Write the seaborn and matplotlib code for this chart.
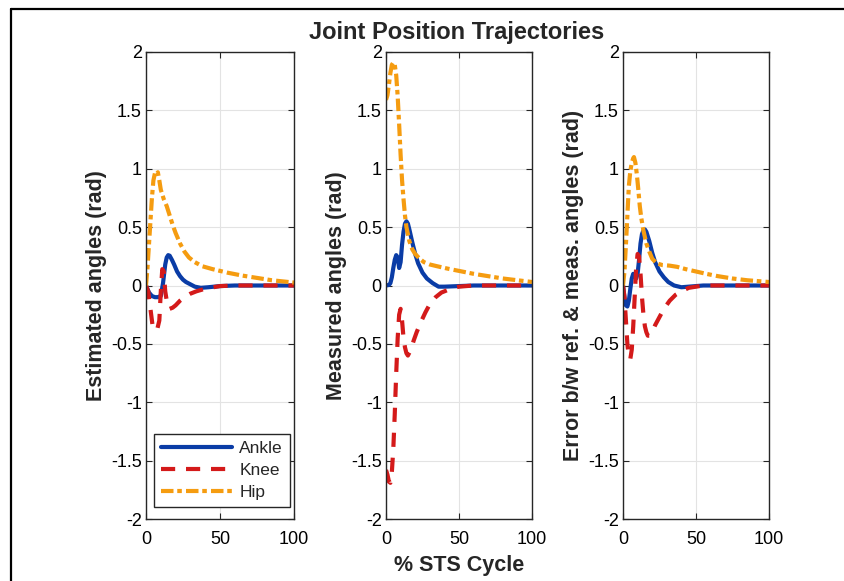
import numpy as np
import pandas as pd
import matplotlib
matplotlib.use("Agg")
import matplotlib.pyplot as plt
from matplotlib.lines import Line2D
from matplotlib.ticker import FormatStrFormatter
import seaborn as sns

# ---------------- data ----------------
# Panel 1: Estimated angles
ankle_est_x = [0, 2, 4, 6, 8, 10, 11.5, 13, 14, 15, 16, 17.5, 19, 21, 23, 25, 27, 30, 33, 37, 42, 50, 60, 100]
ankle_est_y = [0, -0.06, -0.09, -0.1, -0.1, -0.09, 0.02, 0.18, 0.24, 0.26, 0.255, 0.22, 0.18, 0.12, 0.08, 0.05, 0.03, 0.01, -0.01, -0.02, -0.015, -0.005, 0, 0]
knee_est_x = [0, 1.5, 3, 4.5, 6, 7.5, 9, 10, 11, 12, 13, 14.5, 16, 18, 20, 23, 26, 30, 34, 38, 43, 50, 60, 100]
knee_est_y = [0, -0.05, -0.2, -0.35, -0.38, -0.38, -0.3, -0.05, 0.14, 0.12, -0.05, -0.17, -0.2, -0.19, -0.17, -0.13, -0.1, -0.07, -0.05, -0.035, -0.02, -0.005, 0, 0]
hip_est_x = [0, 1, 2, 3, 4, 5, 6, 7, 8, 9, 10, 12, 14, 16, 18, 20, 23, 26, 29, 33, 38, 45, 55, 65, 75, 85, 100]
hip_est_y = [0, 0.15, 0.35, 0.55, 0.75, 0.9, 0.96, 0.95, 0.97, 0.9, 0.82, 0.74, 0.68, 0.6, 0.52, 0.45, 0.36, 0.29, 0.24, 0.2, 0.165, 0.14, 0.11, 0.085, 0.065, 0.045, 0.025]

# Panel 2: Measured angles
ankle_meas_x = [0, 2, 3, 4, 5, 6, 7, 8, 9, 10, 11, 12, 13, 14, 15, 16, 18, 20, 22, 25, 28, 32, 36, 40, 50, 60, 100]
ankle_meas_y = [0, 0.005, 0.02, 0.07, 0.15, 0.22, 0.26, 0.24, 0.15, 0.2, 0.35, 0.46, 0.53, 0.55, 0.53, 0.48, 0.37, 0.27, 0.19, 0.11, 0.06, 0.02, -0.01, -0.01, -0.005, 0, 0]
knee_meas_x = [0, 1, 2, 3, 4, 5, 6, 7, 8, 9, 10, 11, 12, 13, 14, 15, 17, 19, 21, 24, 27, 30, 34, 38, 42, 46, 50, 55, 60, 100]
knee_meas_y = [-1.58, -1.62, -1.68, -1.69, -1.6, -1.4, -1.1, -0.75, -0.45, -0.25, -0.2, -0.3, -0.45, -0.53, -0.58, -0.6, -0.55, -0.47, -0.4, -0.31, -0.23, -0.16, -0.1, -0.06, -0.04, -0.02, -0.01, -0.005, 0, 0]
hip_meas_x = [0, 1, 2, 3, 4, 5, 6, 7, 8, 9, 10, 11, 12, 13, 14, 16, 18, 20, 23, 26, 30, 35, 42, 50, 60, 70, 80, 90, 100]
hip_meas_y = [1.59, 1.63, 1.72, 1.82, 1.89, 1.91, 1.89, 1.8, 1.62, 1.38, 1.12, 0.9, 0.74, 0.6, 0.5, 0.38, 0.31, 0.27, 0.23, 0.2, 0.18, 0.165, 0.145, 0.125, 0.1, 0.08, 0.06, 0.045, 0.03]

# Panel 3: Error between reference and measured angles
ankle_err_x = [0, 1, 2, 3, 4, 5, 6, 7, 8, 9, 10, 11, 12, 13, 14, 15, 16, 18, 20, 22, 25, 28, 31, 35, 40, 45, 55, 100]
ankle_err_y = [0, -0.1, -0.17, -0.18, -0.13, -0.03, 0.06, 0.1, 0.09, 0.06, 0.1, 0.22, 0.36, 0.44, 0.47, 0.48, 0.46, 0.38, 0.28, 0.2, 0.12, 0.07, 0.03, 0.0, -0.015, -0.01, 0, 0]
knee_err_x = [0, 1, 2, 3, 4, 5, 6, 7, 8, 9, 10, 11, 12, 13, 14, 15, 16, 17, 18, 20, 22, 25, 28, 32, 36, 40, 45, 50, 55, 100]
knee_err_y = [0, -0.1, -0.3, -0.5, -0.62, -0.63, -0.55, -0.35, -0.1, 0.15, 0.27, 0.25, 0.1, -0.1, -0.25, -0.35, -0.4, -0.43, -0.43, -0.4, -0.34, -0.27, -0.2, -0.13, -0.08, -0.05, -0.02, -0.01, 0, 0]
hip_err_x = [0, 1, 2, 3, 4, 5, 6, 7, 7.5, 8.5, 9.5, 10.5, 11.5, 12.5, 14, 16, 18, 20, 23, 27, 32, 37, 43, 50, 57, 65, 75, 85, 100]
hip_err_y = [0, 0.12, 0.35, 0.6, 0.85, 0.98, 1.05, 1.09, 1.1, 1.05, 0.95, 0.82, 0.68, 0.58, 0.47, 0.36, 0.29, 0.23, 0.19, 0.175, 0.17, 0.16, 0.14, 0.12, 0.1, 0.08, 0.06, 0.045, 0.03]

series_names = ["Ankle", "Knee", "Hip"]
panel_ylabels = ["Estimated angles (rad)", "Measured angles (rad)",
                 "Error b/w ref. & meas. angles (rad)"]
title_text = "Joint Position Trajectories"
xlabel_text = "% STS Cycle"
x_ticks = [0, 50, 100]
y_ticks = [-2, -1.5, -1, -0.5, 0, 0.5, 1, 1.5, 2]

# ---------------- style ----------------
sns.set_theme(style="ticks")
plt.rcParams["font.family"] = ["Liberation Sans", "DejaVu Sans"]
plt.rcParams["axes.unicode_minus"] = False

colors = {"Ankle": "#0a3ca6", "Knee": "#d41a1a", "Hip": "#f59c10"}
styles = {"Ankle": "-", "Knee": (0, (3.4, 2.6)), "Hip": (0, (3.0, 0.9, 1.1, 1.0))}
LW = 3.0

W, H = 845, 581
fig = plt.figure(figsize=(W / 100, H / 100), dpi=100)

panel_px = [(146, 294), (386, 532), (623, 769)]
top_px, bot_px = 52, 519
axes = []
for (l, r) in panel_px:
    ax = fig.add_axes([l / W, 1 - bot_px / H, (r - l) / W, (bot_px - top_px) / H])
    axes.append(ax)

panels = [
    [(ankle_est_x, ankle_est_y), (knee_est_x, knee_est_y), (hip_est_x, hip_est_y)],
    [(ankle_meas_x, ankle_meas_y), (knee_meas_x, knee_meas_y), (hip_meas_x, hip_meas_y)],
    [(ankle_err_x, ankle_err_y), (knee_err_x, knee_err_y), (hip_err_x, hip_err_y)],
]

for i, ax in enumerate(axes):
    for name, (xs, ys) in zip(series_names, panels[i]):
        df = pd.DataFrame({"x": xs, "y": ys})
        kw = {}
        if i == 0:
            kw["label"] = name
        sns.lineplot(data=df, x="x", y="y", ax=ax, color=colors[name],
                     linestyle=styles[name], linewidth=LW, sort=False, **kw)
    ax.set_xlim(0, 100)
    ax.set_ylim(-2, 2)
    ax.set_xticks(x_ticks)
    ax.set_yticks(y_ticks)
    ax.yaxis.set_major_formatter(FormatStrFormatter("%g"))
    ax.grid(True, color="#e3e3e3", linewidth=0.8)
    ax.set_axisbelow(True)
    for s in ax.spines.values():
        s.set_visible(True)
        s.set_color("#262626")
        s.set_linewidth(1.0)
    ax.tick_params(direction="in", top=True, right=True, length=4, width=0.8,
                   color="#262626", labelsize=13, labelcolor="black")
    ax.tick_params(axis="y", pad=3)
    ax.tick_params(axis="x", pad=9)
    ax.set_ylabel(panel_ylabels[i], fontsize=15.5, fontweight="bold", labelpad=3)
    ax.set_xlabel("")
    leg = ax.get_legend()
    if leg is not None and i != 0:
        leg.remove()

axes[1].set_xlabel(xlabel_text, fontsize=15.5, fontweight="bold", labelpad=5)

leg = axes[0].legend(loc="lower left", bbox_to_anchor=(0.055, 0.025), borderaxespad=0,
                     fontsize=12.5, handlelength=4.1, handletextpad=0.4,
                     labelspacing=0.4, frameon=True, fancybox=False,
                     edgecolor="#262626", borderpad=0.4)
leg.get_frame().set_linewidth(1.0)
leg.get_frame().set_alpha(1)

fig.text(457 / W, 1 - 33 / H, title_text, ha="center", va="center",
         fontsize=17, fontweight="bold")

# outer frame (left and top edges visible in the reference)
fig.add_artist(Line2D([11 / W, 11 / W], [0, 1 - 9 / H], transform=fig.transFigure,
                      color="black", linewidth=1.6))
fig.add_artist(Line2D([11 / W, 1], [1 - 9 / H, 1 - 9 / H], transform=fig.transFigure,
                      color="black", linewidth=1.6))

fig.savefig("out.png", dpi=100)
